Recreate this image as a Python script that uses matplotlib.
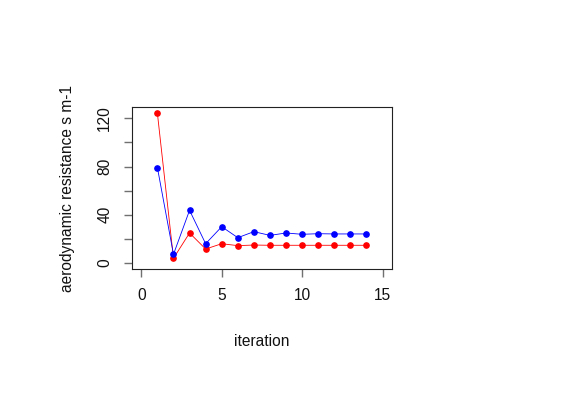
import numpy as np
import matplotlib.pyplot as plt

plt.rcParams['font.family'] = ['Liberation Sans', 'DejaVu Sans']

# iteration number and aerodynamic resistance of the two runs
iteration = np.arange(1, 15)
res_red = [124.1, 3.9, 24.9, 11.6, 16.0, 14.4, 14.9, 14.7, 14.7, 14.7, 14.7, 14.7, 14.7, 14.7]
res_blue = [79.1, 7.2, 43.7, 16.0, 30.1, 21.0, 26.0, 22.9, 24.9, 23.8, 24.3, 24.1, 24.1, 24.1]

x_ticks = [0, 5, 10, 15]
y_ticks = [0, 20, 40, 60, 80, 100, 120]
y_labels = ['0', '', '40', '', '80', '', '120']

fig = plt.figure(figsize=(5.7, 4.03), dpi=100)
ax = fig.add_axes([0.231, 0.3325, 0.457, 0.4012])

ax.plot(iteration, res_red, color='red', lw=0.6, marker='o', ms=3.8)
ax.plot(iteration, res_blue, color='blue', lw=0.6, marker='o', ms=3.8)

# R style 4% padding around the data range
ymax = max(max(res_red), max(res_blue))
ax.set_xlim(-0.6, 15.6)
ax.set_ylim(-0.04 * ymax, 1.04 * ymax)

ax.set_xticks(x_ticks)
ax.set_yticks(y_ticks)
ax.set_yticklabels(y_labels, rotation=90, va='center')
ax.tick_params(length=6, width=1.0, colors='#707070', labelcolor='#111111',
               labelsize=11.2, pad=8)

for s in ax.spines.values():
    s.set_color('#222222')
    s.set_linewidth(0.8)

ax.set_xlabel('iteration', fontsize=11.2, labelpad=22, color='#111111')
ax.set_ylabel('aerodynamic resistance s m-1', fontsize=11.2, labelpad=16,
              color='#111111')

plt.savefig('out.png', dpi=100)
